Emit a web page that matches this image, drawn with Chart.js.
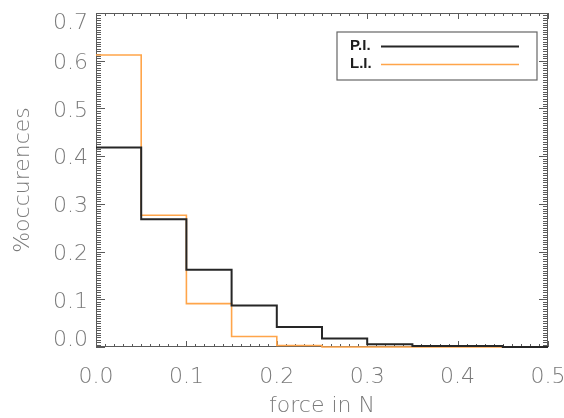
<!DOCTYPE html>
<html>
<head>
<meta charset="utf-8">
<script src="https://cdn.jsdelivr.net/npm/chart.js@4.4.1/dist/chart.umd.min.js"></script>
<style>
  html, body { margin: 0; padding: 0; background: #ffffff; }
  #wrap { width: 564px; height: 418px; position: relative; }
</style>
</head>
<body>
<div id="wrap"><canvas id="chart" width="564" height="418"></canvas></div>
<script>
// Histogram of contact force, bin width 0.05 N (left bin edges)
const binEdges = [0.00, 0.05, 0.10, 0.15, 0.20, 0.25, 0.30, 0.35, 0.40, 0.45];
const binEnd = 0.50;
// fraction of occurrences per bin
const piValues = [0.418, 0.268, 0.162, 0.087, 0.042, 0.018, 0.006, 0.002, 0.002, 0.000];
const liValues = [0.612, 0.276, 0.091, 0.022, 0.003, 0.000, 0.000, 0.000, 0.000, 0.000];
const seriesNames = ['P.I.', 'L.I.'];
const seriesColors = ['#262626', '#ffa54a'];
// axis ticks
const xTickValues = [0.0, 0.1, 0.2, 0.3, 0.4, 0.5];
const xTickLabels = ['0.0', '0.1', '0.2', '0.3', '0.4', '0.5'];
const yTickValues = [0.0, 0.1, 0.2, 0.3, 0.4, 0.5, 0.6, 0.7];
const yTickLabels = ['0.0', '0.1', '0.2', '0.3', '0.4', '0.5', '0.6', '0.7'];
const xTitle = 'force in N';
const yTitle = '%occurences';

// step outline: each bin's left edge plus a closing point at the last right edge
function stepPoints(values) {
  const pts = binEdges.map((x, i) => ({ x: x, y: values[i] }));
  pts.push({ x: binEnd, y: values[values.length - 1] });
  return pts;
}

const AXIS_COLOR = '#5a5a5a';
const LABEL_COLOR = '#7a7a7a';
const LABEL_FONT = '200 22px "DejaVu Sans", sans-serif';

// box frame with inward ticks on all four sides, plus tick labels and titles
const framePlugin = {
  id: 'frame',
  beforeDatasetsDraw(chart) {
    const { ctx, chartArea: a, scales } = chart;
    const xs = scales.x, ys = scales.y;
    ctx.save();
    ctx.strokeStyle = AXIS_COLOR;
    ctx.lineWidth = 1;
    ctx.strokeRect(a.left + 0.5, a.top + 0.5, a.right - a.left - 1, a.bottom - a.top - 1);
    ctx.beginPath();
    // x ticks every 0.01, major every 0.1
    for (let k = 0; k <= 50; k++) {
      const v = k / 100;
      const px = Math.round(xs.getPixelForValue(v)) + 0.5;
      const len = (k % 10 === 0) ? 6 : 3;
      ctx.moveTo(px, a.bottom); ctx.lineTo(px, a.bottom - len);
      ctx.moveTo(px, a.top); ctx.lineTo(px, a.top + len);
    }
    // y ticks every 0.005, major every 0.1
    for (let k = 0; k <= 140; k++) {
      const v = k / 200;
      const py = Math.round(ys.getPixelForValue(v)) + 0.5;
      const len = (k % 20 === 0) ? 9 : 5;
      ctx.moveTo(a.left, py); ctx.lineTo(a.left + len, py);
      ctx.moveTo(a.right, py); ctx.lineTo(a.right - len, py);
    }
    ctx.stroke();

    ctx.fillStyle = LABEL_COLOR;
    ctx.font = LABEL_FONT;
    // x tick labels
    ctx.textAlign = 'center';
    ctx.textBaseline = 'middle';
    xTickValues.forEach((v, i) => {
      ctx.fillText(xTickLabels[i], xs.getPixelForValue(v), a.bottom + 30);
    });
    // y tick labels, kept inside the frame height
    ctx.textAlign = 'right';
    yTickValues.forEach((v, i) => {
      let py = ys.getPixelForValue(v) + 2.5;
      py = Math.max(a.top + 10, Math.min(a.bottom - 7, py));
      ctx.fillText(yTickLabels[i], a.left - 8, py);
    });
    // titles
    ctx.textAlign = 'center';
    ctx.fillText(xTitle, (a.left + a.right) / 2, 406);
    ctx.save();
    ctx.translate(23, (a.top + a.bottom) / 2);
    ctx.rotate(-Math.PI / 2);
    ctx.fillText(yTitle, 0, 0);
    ctx.restore();
    ctx.restore();
  },
  afterDraw(chart) {
    // boxed legend in the upper right
    const { ctx } = chart;
    ctx.save();
    ctx.strokeStyle = '#666666';
    ctx.lineWidth = 1.2;
    ctx.strokeRect(337, 32, 200, 48);
    chart.data.datasets.forEach((ds, i) => {
      const cy = 46 + i * 18;
      ctx.fillStyle = '#1e1e1e';
      ctx.font = 'bold 15px "Liberation Sans", sans-serif';
      ctx.textAlign = 'left';
      ctx.textBaseline = 'middle';
      ctx.fillText(ds.label, 350, cy);
      ctx.strokeStyle = ds.borderColor;
      ctx.lineWidth = ds.borderWidth;
      ctx.beginPath();
      ctx.moveTo(381, cy + 0.5);
      ctx.lineTo(519, cy + 0.5);
      ctx.stroke();
    });
    ctx.restore();
  }
};

new Chart(document.getElementById('chart'), {
  type: 'line',
  data: {
    datasets: [
      {
        label: seriesNames[0],
        data: stepPoints(piValues),
        borderColor: seriesColors[0],
        borderWidth: 2,
        stepped: 'before',
        pointRadius: 0,
        fill: false,
        clip: 4
      },
      {
        label: seriesNames[1],
        data: stepPoints(liValues),
        borderColor: seriesColors[1],
        borderWidth: 1.6,
        stepped: 'before',
        pointRadius: 0,
        fill: false,
        clip: 4
      }
    ]
  },
  options: {
    responsive: false,
    animation: false,
    devicePixelRatio: 1,
    layout: { padding: { left: 96, top: 13, right: 16, bottom: 71 } },
    plugins: { legend: { display: false }, tooltip: { enabled: false } },
    scales: {
      x: { type: 'linear', min: 0, max: 0.5, display: false },
      y: { type: 'linear', min: 0, max: 0.7, display: false }
    }
  },
  plugins: [framePlugin]
});
</script>
</body>
</html>
